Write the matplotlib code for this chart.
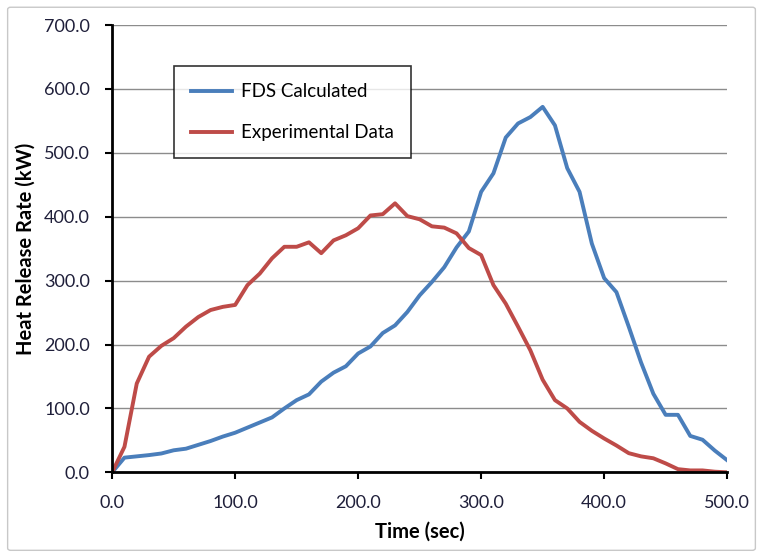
import matplotlib
matplotlib.use("Agg")
import matplotlib.pyplot as plt
from matplotlib.patches import FancyBboxPatch

plt.rcParams["font.family"] = ["Lato", "DejaVu Sans"]

# time axis (sec), every 10 s
time = list(range(0, 510, 10))

fds_calc = [0, 23, 25, 27, 29.5, 34.5, 37, 43, 49, 56, 62,
            70, 78, 86, 100, 113, 122, 142, 156, 166, 186,
            197, 218, 230, 251, 277, 298, 321, 352, 377, 439,
            468, 524, 546, 556, 572, 543, 476, 439, 358, 304,
            282, 228, 172, 123, 90, 90, 57, 51, 34, 19]

exp_data = [0, 40, 139, 181, 198, 210, 228, 243, 254, 259, 262,
            293, 311, 335, 353, 353, 360, 343, 363, 371, 382,
            402, 404, 421, 401, 396, 385, 383, 374, 351, 340,
            293, 264, 228, 191, 145, 113, 100, 79, 65, 53,
            42, 30, 25, 22, 14, 5, 3, 3, 1, 0]

blue = "#4a7ebb"
red = "#be4b48"
tick_col = "#1f1f3a"

fig = plt.figure(figsize=(7.63, 5.57), dpi=100)
fig.patches.append(FancyBboxPatch((0.01, 0.012), 0.98, 0.975, boxstyle="round,pad=0,rounding_size=0.004",
                                  transform=fig.transFigure, fill=False, ec="#c8c8c8", lw=1))
ax = fig.add_axes([0.147, 0.152, 0.806, 0.803])

ax.plot(time, fds_calc, color=blue, lw=2.8, label="FDS Calculated")
ax.plot(time, exp_data, color=red, lw=2.8, label="Experimental Data")

ax.set_xlim(0, 500)
ax.set_ylim(0, 700)
ax.set_xticks(range(0, 501, 100))
ax.set_yticks(range(0, 701, 100))
ax.set_xticklabels([f"{v:.1f}" for v in range(0, 501, 100)])
ax.set_yticklabels([f"{v:.1f}" for v in range(0, 701, 100)])
ax.tick_params(axis="both", labelsize=13, labelcolor=tick_col, length=5, width=1.5, direction="out")
ax.tick_params(axis="x", pad=11)
ax.tick_params(axis="y", pad=11)
ax.grid(axis="y", color="#8c8c8c", lw=1)
ax.set_axisbelow(True)
for side in ("top", "right"):
    ax.spines[side].set_visible(False)
for side in ("left", "bottom"):
    ax.spines[side].set_linewidth(2)
    ax.spines[side].set_zorder(5)

ax.set_xlabel("Time (sec)", fontsize=14.5, fontweight="bold", labelpad=8)
ax.set_ylabel("Heat Release Rate (kW)", fontsize=14.5, fontweight="bold", labelpad=6)

leg = ax.legend(loc="upper left", bbox_to_anchor=(0.1, 0.908), fontsize=13.5, frameon=True,
                fancybox=False, shadow=False, edgecolor="black", handlelength=2.2,
                borderpad=0.9, labelspacing=1.3, handletextpad=0.5, borderaxespad=0)
leg.get_frame().set_linewidth(1.2)

fig.savefig("out.png", dpi=100)
